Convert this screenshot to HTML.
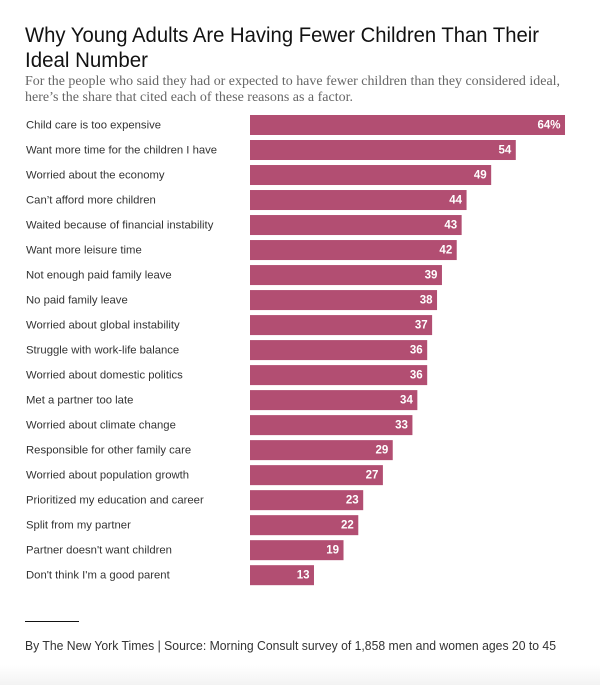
<!DOCTYPE html>
<html lang="en">
<head>
<meta charset="utf-8">
<title>Why Young Adults Are Having Fewer Children</title>
<style>
html,body{margin:0;padding:0;background:#fff;width:600px;height:685px;overflow:hidden}
svg{display:block}
text{font-family:"Liberation Sans",sans-serif}
.serif{font-family:"Liberation Serif",serif}
</style>
</head>
<body>
<svg id="chart" xmlns="http://www.w3.org/2000/svg" width="600" height="685" viewBox="0 0 600 685">
  <defs>
    <linearGradient id="fade" x1="0" y1="0" x2="0" y2="1">
      <stop offset="0" stop-color="#ffffff"/>
      <stop offset="1" stop-color="#f3f3f3"/>
    </linearGradient>
  </defs>
  <rect x="0" y="0" width="600" height="685" fill="#fff"/>
  <rect x="0" y="665" width="600" height="20" fill="url(#fade)"/>
  <text x="25" y="42" font-size="21.5" fill="#121212" textLength="514" lengthAdjust="spacingAndGlyphs">Why Young Adults Are Having Fewer Children Than Their</text>
  <text x="25" y="67" font-size="21.5" fill="#121212" textLength="123" lengthAdjust="spacingAndGlyphs">Ideal Number</text>
  <text class="serif" x="25" y="85" font-size="13.5" fill="#666" textLength="535" lengthAdjust="spacingAndGlyphs">For the people who said they had or expected to have fewer children than they considered ideal,</text>
  <text class="serif" x="25" y="101" font-size="13.5" fill="#666" textLength="328" lengthAdjust="spacingAndGlyphs">here’s the share that cited each of these reasons as a factor.</text>
  <g id="rows"></g>
  <rect x="25" y="621" width="54" height="1" fill="#121212"/>
  <text x="25" y="650" font-size="12.5" fill="#333" textLength="531" lengthAdjust="spacingAndGlyphs">By The New York Times | Source: Morning Consult survey of 1,858 men and women ages 20 to 45</text>
</svg>
<script>
const categories = [
  "Child care is too expensive",
  "Want more time for the children I have",
  "Worried about the economy",
  "Can’t afford more children",
  "Waited because of financial instability",
  "Want more leisure time",
  "Not enough paid family leave",
  "No paid family leave",
  "Worried about global instability",
  "Struggle with work-life balance",
  "Worried about domestic politics",
  "Met a partner too late",
  "Worried about climate change",
  "Responsible for other family care",
  "Worried about population growth",
  "Prioritized my education and career",
  "Split from my partner",
  "Partner doesn't want children",
  "Don't think I'm a good parent"
];
const values = [64, 54, 49, 44, 43, 42, 39, 38, 37, 36, 36, 34, 33, 29, 27, 23, 22, 19, 13];

const NS = "http://www.w3.org/2000/svg";
const rows = document.getElementById("rows");
const x = v => 250 + v * 4.922;
const y = i => 115 + i * 25.01;
const BAR_H = 20;

categories.forEach((name, i) => {
  const label = document.createElementNS(NS, "text");
  
  
  label.setAttribute("x", 26);
  label.setAttribute("y", y(i) + 13.5);
  label.setAttribute("font-size", "11.3");
  label.setAttribute("fill", "#333");
  label.textContent = name;
  rows.appendChild(label);

  const bar = document.createElementNS(NS, "rect");
  
  
  bar.setAttribute("x", x(0));
  bar.setAttribute("y", y(i));
  bar.setAttribute("width", x(values[i]) - x(0));
  bar.setAttribute("height", BAR_H);
  bar.setAttribute("fill", "#b24e72");
  rows.appendChild(bar);

  const val = document.createElementNS(NS, "text");
  
  
  val.setAttribute("x", x(values[i]) - 4.5);
  val.setAttribute("y", y(i) + 13.5);
  val.setAttribute("text-anchor", "end");
  val.setAttribute("font-size", "11.5");
  val.setAttribute("font-weight", "bold");
  val.setAttribute("fill", "#fff");
  val.textContent = values[i] + (i === 0 ? "%" : "");
  rows.appendChild(val);
});
</script>
</body>
</html>
